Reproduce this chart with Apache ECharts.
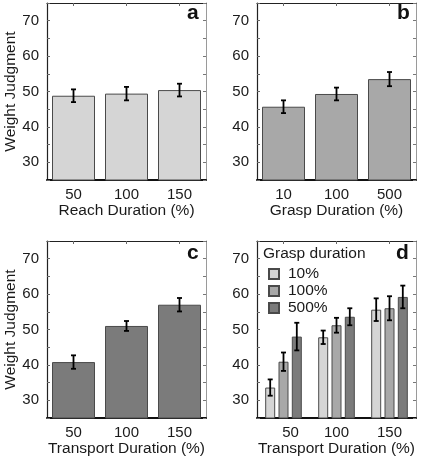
<!DOCTYPE html>
<html>
<head>
<meta charset="utf-8">
<script src="https://cdn.jsdelivr.net/npm/echarts@6/dist/echarts.min.js"></script>
<style>html,body{margin:0;padding:0;background:#fff}#c{width:421px;height:462px}</style>
</head>
<body>
<div id="c"></div>
<script>
// ---- data ----
const reachCategories = ['50', '100', '150'];
const reachMeans = [48.8, 49.4, 50.4];
const reachErr = [1.8, 1.9, 1.8];

const graspCategories = ['10', '100', '500'];
const graspMeans = [45.7, 49.3, 53.5];
const graspErr = [1.8, 1.8, 2.0];

const transportCategories = ['50', '100', '150'];
const transportMeans = [40.8, 51.0, 57.0];
const transportErr = [1.9, 1.4, 1.9];

const interactionCategories = ['50', '100', '150'];
const graspLevels = ['10%', '100%', '500%'];
const grasp10Means = [33.6, 47.8, 55.6];
const grasp10Err = [2.3, 1.9, 3.2];
const grasp100Means = [40.9, 51.2, 56.0];
const grasp100Err = [2.6, 2.1, 3.4];
const grasp500Means = [48.0, 53.6, 59.2];
const grasp500Err = [3.9, 2.4, 3.2];

const yTickLabels = [30, 40, 50, 60, 70];

// ---- styles ----
const FONT = 'Liberation Sans, Arial, sans-serif';
const TXT = '#1a1a1a';
const lightGray = '#d5d5d5', midGray = '#a8a8a8', darkGray = '#7b7b7b';
const barBorder = '#4a4a4a';

const grids = [
  {left: 47, top: 3, width: 159, height: 177},
  {left: 257, top: 3, width: 159, height: 177},
  {left: 47, top: 241, width: 159, height: 177},
  {left: 257, top: 241, width: 159, height: 177}
];

const xAxes = [], yAxes = [], series = [];

function addPanel(gi, cats, xName, showYName, labelFmt) {
  xAxes.push({
    type: 'category', gridIndex: gi, data: cats, position: 'bottom',
    axisLine: {lineStyle: {color: '#111', width: 2}},
    axisTick: {show: false},
    axisLabel: Object.assign({color: TXT, fontSize: 15, fontFamily: FONT, margin: 7}, labelFmt || {}),
    name: xName, nameLocation: 'middle', nameGap: 23,
    nameTextStyle: {color: TXT, fontSize: 15.5, fontFamily: FONT}
  });
  xAxes.push({
    type: 'category', gridIndex: gi, data: cats, position: 'top',
    axisLine: {lineStyle: {color: '#222', width: 1.2}},
    axisTick: {show: true, inside: true, length: 3, alignWithLabel: true, lineStyle: {color: '#666'}},
    axisLabel: {show: false}
  });
  yAxes.push({
    type: 'value', gridIndex: gi, min: 25, max: 75, interval: 5, position: 'left',
    splitLine: {show: false},
    axisLine: {show: true, lineStyle: {color: '#222', width: 1.2}},
    axisTick: {show: true, inside: true, length: 3, lineStyle: {color: '#666'}},
    axisLabel: {
      color: TXT, fontSize: 15, fontFamily: FONT, margin: 8,
      formatter: v => yTickLabels.includes(v) ? String(v) : ''
    },
    name: showYName ? 'Weight Judgment' : '', nameLocation: 'middle', nameGap: 28,
    nameTextStyle: {color: TXT, fontSize: 15.5, fontFamily: FONT}
  });
  yAxes.push({
    type: 'value', gridIndex: gi, min: 25, max: 75, interval: 5, position: 'right',
    splitLine: {show: false},
    axisLine: {show: true, lineStyle: {color: '#9a9a9a', width: 1}},
    axisTick: {show: true, inside: true, length: 3, lineStyle: {color: '#777'}},
    axisLabel: {show: false}
  });
}

function barSeries(gi, name, means, color, width, extra) {
  return Object.assign({
    type: 'bar', name: name, xAxisIndex: gi * 2, yAxisIndex: gi * 2,
    data: means, barWidth: width,
    itemStyle: {color: color, borderColor: barBorder, borderWidth: 1},
    z: 2
  }, extra || {});
}

function errSeries(gi, means, errs, offset) {
  return {
    type: 'custom', xAxisIndex: gi * 2, yAxisIndex: gi * 2, z: 5,
    data: means.map((m, i) => [i, m, errs[i]]),
    renderItem: function (params, api) {
      const i = api.value(0), m = api.value(1), e = api.value(2);
      const top = api.coord([i, m + e]);
      const bot = api.coord([i, m - e]);
      const x = top[0] + offset;
      const cap = 2.5;
      const st = {stroke: '#000', lineWidth: 1.8};
      return {
        type: 'group', children: [
          {type: 'line', shape: {x1: x, y1: top[1], x2: x, y2: bot[1]}, style: st},
          {type: 'line', shape: {x1: x - cap, y1: top[1], x2: x + cap, y2: top[1]}, style: st},
          {type: 'line', shape: {x1: x - cap, y1: bot[1], x2: x + cap, y2: bot[1]}, style: st}
        ]
      };
    }
  };
}

addPanel(0, reachCategories, 'Reach Duration (%)', true);
addPanel(1, graspCategories, 'Grasp Duration (%)', false);
addPanel(2, transportCategories, 'Transport Duration (%)', true);
addPanel(3, interactionCategories, 'Transport Duration (%)', false, {
  formatter: (v, i) => i === 0 ? '{s|' + v + '}' : v,
  rich: {s: {color: TXT, fontSize: 15, fontFamily: FONT, padding: [0, 0, 0, 14]}}
});

series.push(barSeries(0, 'reach', reachMeans, lightGray, 43));
series.push(errSeries(0, reachMeans, reachErr, 0));
series.push(barSeries(1, 'grasp', graspMeans, midGray, 43));
series.push(errSeries(1, graspMeans, graspErr, 0));
series.push(barSeries(2, 'transport', transportMeans, darkGray, 43));
series.push(errSeries(2, transportMeans, transportErr, 0));

const dColors = [lightGray, midGray, darkGray];
const dMeans = [grasp10Means, grasp100Means, grasp500Means];
const dErrs = [grasp10Err, grasp100Err, grasp500Err];
const bw = 10, gapPct = 0.33;
dMeans.forEach((m, k) => {
  series.push(barSeries(3, graspLevels[k], m, dColors[k], bw, {barGap: '33%'}));
});
dMeans.forEach((m, k) => {
  const off = (k - 1) * bw * (1 + gapPct);
  series.push(errSeries(3, m, dErrs[k], off));
});

const letterStyle = {color: '#111', fontSize: 21, fontWeight: 'bold', fontFamily: FONT};
const option = {
  animation: false,
  backgroundColor: '#fff',
  grid: grids.map(g => Object.assign({show: false}, g)),
  xAxis: xAxes,
  yAxis: yAxes,
  title: [
    {text: 'a', left: 187, top: 3, padding: 0, textStyle: letterStyle},
    {text: 'b', left: 397, top: 3, padding: 0, textStyle: letterStyle},
    {text: 'c', left: 187, top: 243, padding: 0, textStyle: letterStyle},
    {text: 'd', left: 396, top: 243, padding: 0, textStyle: letterStyle},
    {text: 'Grasp duration', left: 263, top: 246, padding: 0,
     textStyle: {color: TXT, fontSize: 15.5, fontWeight: 'normal', fontFamily: FONT}}
  ],
  legend: {
    data: graspLevels, orient: 'vertical', left: 268, top: 266, padding: 0,
    itemWidth: 10, itemHeight: 10, itemGap: 1, icon: 'rect',
    textStyle: {color: TXT, fontSize: 15.5, fontFamily: FONT, lineHeight: 14, padding: [0, 0, 0, 4]},
    selectedMode: false
  },
  series: series
};

const chart = echarts.init(document.getElementById('c'), null, {renderer: 'canvas'});
chart.setOption(option);
</script>
</body>
</html>
